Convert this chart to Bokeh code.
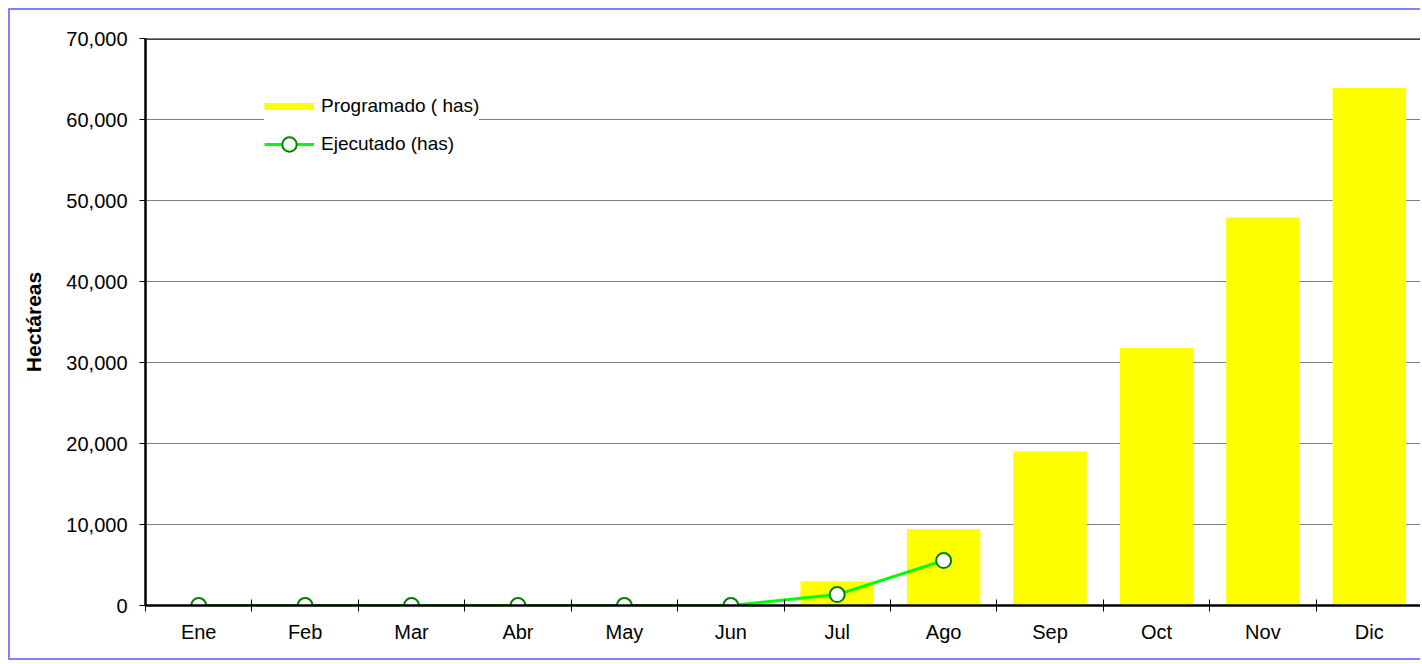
from bokeh.plotting import figure
from bokeh.embed import file_html
from bokeh.resources import INLINE
from bokeh.models import (Range1d, FixedTicker, SingleIntervalTicker, NumeralTickFormatter,
                          Legend, LegendItem, Span)

# ---- data ----
months = ["Ene", "Feb", "Mar", "Abr", "May", "Jun", "Jul", "Ago", "Sep", "Oct", "Nov", "Dic"]
programado = [0, 0, 0, 0, 0, 0, 2950, 9400, 19000, 31800, 47900, 63900]
ejecutado = [0, 0, 0, 0, 0, 0, 1350, 5550, None, None, None, None]
y_ticks_interval = 10000

xs = [i + 1 for i in range(len(months))]
bounds = [i + 0.5 for i in range(len(months) + 1)]
ej = [float("nan") if v is None else v for v in ejecutado]

FONT = "Liberation Sans"

p = figure(width=1412, height=652,
           x_range=Range1d(0.5, len(months) + 0.5), y_range=Range1d(0, 70000),
           output_backend="svg", toolbar_location=None,
           min_border_left=135, min_border_top=28, min_border_bottom=57, min_border_right=0)
p.styles = {"margin-left": "8px", "margin-top": "8px",
            "border-left": "2px solid #8080FF",
            "border-top": "2px solid #8080FF",
            "border-bottom": "2px solid #8080FF",
            "border-right": "0px none"}
p.outline_line_color = None
p.background_fill_color = "white"
p.border_fill_color = "white"

bars = p.vbar(x=xs, top=programado, width=0.69, fill_color="#FFFF00", line_color=None)
line = p.line(x=xs, y=ej, line_color="#00FF00", line_width=3)
pts = p.scatter(x=xs, y=ej, size=15, fill_color="white", line_color="#008000", line_width=2)

# legend proxy for bars (thin yellow band as in the original); holds no visible point
proxy = p.line(x=[float("nan")], y=[float("nan")], line_color="#FFFF00", line_width=7)

p.add_layout(Span(location=70000, dimension="width", line_color="black", line_width=2.5))

# grid
p.xgrid.visible = False
p.ygrid.grid_line_color = "black"
p.ygrid.grid_line_dash = "1 1"
p.ygrid.grid_line_width = 1
p.ygrid.grid_line_alpha = 1

# y axis
ya = p.yaxis[0]
ya.ticker = SingleIntervalTicker(interval=y_ticks_interval, num_minor_ticks=0)
ya.formatter = NumeralTickFormatter(format="0,0")
ya.axis_line_color = "black"
ya.axis_line_width = 2.5
ya.major_tick_out = 6
ya.major_tick_in = 0
ya.minor_tick_line_color = None
ya.major_label_text_font = FONT
ya.major_label_text_font_size = "20px"
ya.major_label_text_color = "black"
ya.major_label_standoff = 12
ya.axis_label = "Hectáreas"
ya.axis_label_text_font = FONT
ya.axis_label_text_font_size = "21px"
ya.axis_label_text_font_style = "bold"
ya.axis_label_text_color = "black"
ya.axis_label_standoff = 18

# x axis
xa = p.xaxis[0]
xa.ticker = FixedTicker(ticks=xs, minor_ticks=bounds)
xa.major_label_overrides = {x: m for x, m in zip(xs, months)}
xa.axis_line_color = "black"
xa.axis_line_width = 2.5
xa.major_tick_in = 0
xa.major_tick_out = 0
xa.minor_tick_in = 6
xa.minor_tick_out = 6
xa.minor_tick_line_color = "black"
xa.major_label_text_font = FONT
xa.major_label_text_font_size = "20px"
xa.major_label_text_color = "black"
xa.major_label_standoff = 9

legend = Legend(items=[LegendItem(label="Programado ( has)", renderers=[proxy]),
                       LegendItem(label="Ejecutado (has)", renderers=[line, pts])],
                location=(119, 443), orientation="vertical",
                glyph_width=50, glyph_height=36, label_height=30, label_standoff=7,
                spacing=2, padding=12, margin=0,
                label_text_font=FONT, label_text_font_size="19px", label_text_color="black",
                border_line_color=None, background_fill_color="white", background_fill_alpha=1)
p.add_layout(legend, "center")

open("out.html", "w").write(file_html(p, INLINE))
